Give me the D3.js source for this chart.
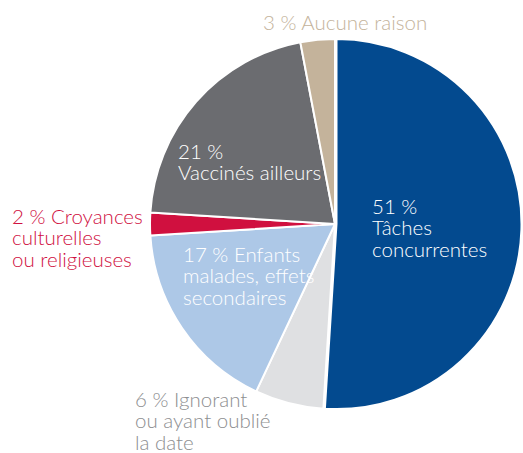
<!DOCTYPE html>
<html lang="fr">
<head>
<meta charset="utf-8">
<script src="https://cdn.jsdelivr.net/npm/d3@7"></script>
<style>
  html, body { margin: 0; padding: 0; background: #ffffff; }
  svg { display: block; }
  text { font-family: Lato, "Open Sans", sans-serif; }
</style>
</head>
<body>
<svg id="chart" width="523" height="453"></svg>
<script>
// Reasons for missed vaccination, clockwise from 12 o'clock
const reasons = [
  "Tâches concurrentes",
  "Ignorant ou ayant oublié la date",
  "Enfants malades, effets secondaires",
  "Croyances culturelles ou religieuses",
  "Vaccinés ailleurs",
  "Aucune raison"
];
const shares = [51, 6, 17, 2, 21, 3];
const labelLines = [
  ["51 %", "Tâches", "concurrentes"],
  ["6 % Ignorant", "ou ayant oublié", "la date"],
  ["17 % Enfants", "malades, effets", "secondaires"],
  ["2 % Croyances", "culturelles", "ou religieuses"],
  ["21 %", "Vaccinés ailleurs"],
  ["3 % Aucune raison"]
];

// Styling and label placement (offsets from pie centre)
const sliceColors = ["#034a8f", "#dfe0e2", "#adc8e7", "#d0103f", "#6b6c70", "#c4b39b"];
const labelColors = ["#ffffff", "#8d8e90", "#ffffff", "#d0103f", "#ffffff", "#c4b39b"];
const labelAnchor = [
  [37, -10], [-200, 183], [-152, 38], [-323, 0], [-157, -65], [-72, -194]
];

const W = 523, H = 453;
const cx = 335, cy = 224, R = 185;
const lineGap = 21.3;

const svg = d3.select("#chart");
const g = svg.append("g").attr("transform", `translate(${cx},${cy})`);

const data = shares.map((v, i) => ({ reason: reasons[i], value: v, i }));

const pie = d3.pie().sort(null).value(d => d.value)
  .startAngle(0).endAngle(2 * Math.PI);
const arc = d3.arc().innerRadius(0).outerRadius(R);
const arcs = pie(data);

// The largest slice is pulled out slightly from the centre
g.selectAll("path.slice")
  .data(arcs)
  .join("path")
  .attr("class", "slice")
  .attr("d", arc)
  .attr("fill", d => sliceColors[d.data.i])
  .attr("stroke", "#ffffff")
  .attr("stroke-width", 2)
  .attr("stroke-linejoin", "round")
  .attr("transform", d => {
    if (d.data.i !== 0) return null;
    const a = (d.startAngle + d.endAngle) / 2;
    const off = 1.5;
    return `translate(${off * Math.sin(a)},${-off * Math.cos(a)})`;
  });

const labels = g.selectAll("text.label")
  .data(arcs)
  .join("text")
  .attr("class", "label")
  .attr("x", d => labelAnchor[d.data.i][0])
  .attr("y", d => labelAnchor[d.data.i][1])
  .attr("fill", d => labelColors[d.data.i])
  .attr("font-size", 20.5)
  .attr("font-weight", 300);

labels.selectAll("tspan")
  .data(d => labelLines[d.data.i].map((t, k) => ({ t, k, x: labelAnchor[d.data.i][0] })))
  .join("tspan")
  .attr("x", d => d.x)
  .attr("dy", d => d.k === 0 ? 0 : lineGap)
  .text(d => d.t);
</script>
</body>
</html>
